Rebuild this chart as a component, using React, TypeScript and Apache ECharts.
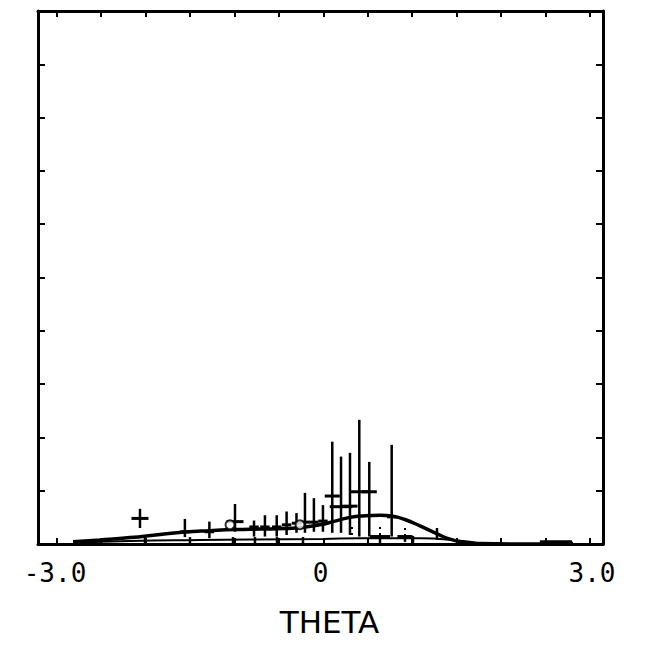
import React, { useEffect, useRef } from "react";
import * as echarts from "echarts";

// Tick positions read from the frame (x in THETA units)
const xTickValues = [-2.801, -2.329, -1.856, -1.384, -0.911, -0.439, 0.034, 0.504, 0.972, 1.449, 1.917, 2.395, 2.862];
const xLabelValues = [-3, 0, 3];
const xLabelText = ["-3.0", "0", "3.0"];

// Fitted curve (thick solid)
const curveX = [-2.628, -2.342, -2.023, -1.704, -1.439, -1.174, -0.908, -0.643, -0.377, -0.218, -0.005, 0.154, 0.313, 0.472, 0.632, 0.77, 0.897, 1.057, 1.216, 1.375, 1.534, 1.694, 2.118, 2.681];
const curveY = [0.04, 0.075, 0.12, 0.18, 0.225, 0.25, 0.27, 0.28, 0.29, 0.31, 0.36, 0.43, 0.5, 0.53, 0.54, 0.52, 0.46, 0.34, 0.21, 0.09, 0.03, 0.01, 0.0, 0.01];

// Lower thin curve
const lowerX = [-2.628, -2.023, -1.28, -0.75, 0.026, 0.42, 1.057, 1.48, 1.694];
const lowerY = [0.02, 0.055, 0.075, 0.085, 0.095, 0.11, 0.11, 0.06, 0.01];

// Upper error crosses: x, y, low, high, half-width
const upX = [-1.917, -1.44, -1.18, -0.908, -0.706, -0.59, -0.465, -0.36, -0.255, -0.165, -0.07, 0.026, 0.125, 0.218, 0.313, 0.412, 0.518, 0.756];
const upY = [0.48, 0.23, 0.23, 0.42, 0.32, 0.32, 0.32, 0.36, 0.39, 0.41, 0.41, 0.43, 0.9, 0.7, 0.71, 0.98, 0.98, 0.51];
const upLo = [0.3, 0.13, 0.11, 0.23, 0.14, 0.14, 0.14, 0.17, 0.21, 0.21, 0.23, 0.23, 0.21, 0.21, 0.17, 0.14, 0.14, 0.14];
const upHi = [0.66, 0.47, 0.42, 0.75, 0.44, 0.54, 0.54, 0.61, 0.58, 0.96, 0.86, 0.73, 1.92, 1.64, 1.71, 2.33, 1.54, 1.86];
const upHw = [0.09, 0.05, 0.05, 0.09, 0.05, 0.05, 0.05, 0.05, 0.05, 0.05, 0.05, 0.05, 0.08, 0.12, 0.08, 0.095, 0.08, 0.05];

// Lower error crosses near the baseline
const lowX = [-1.864, -1.386, -0.929, -0.696, -0.462, -0.186, 0.632, 0.897, 0.982, 1.237, 2.5];
const lowY = [0.07, 0.07, 0.07, 0.07, 0.07, 0.07, 0.14, 0.14, 0.12, 0.13, 0.04];
const lowLo = [0, 0, 0, 0, 0, 0, 0.02, 0.04, 0.02, 0.08, 0.0];
const lowHi = [0.13, 0.13, 0.13, 0.13, 0.13, 0.13, 0.17, 0.17, 0.15, 0.3, 0.06];
const lowHw = [0, 0, 0, 0, 0, 0, 0.106, 0.08, 0, 0, 0.17];

// Dotted bars
const dotX = [0.334, 0.632, 0.897];
const dotLo = [0.13, 0.13, 0.13];
const dotHi = [0.32, 0.32, 0.3];

// Open circles
const circX = [-0.961, -0.218];
const circY = [0.36, 0.36];

const FONT_MONO = "DejaVu Sans Mono";

function crossRenderer(lw: number, dash?: number[]) {
  return (params: any, api: any) => {
    const x = api.value(0);
    const y = api.value(1);
    const lo = api.value(2);
    const hi = api.value(3);
    const hw = api.value(4);
    const l = api.coord([x - hw, y]);
    const r = api.coord([x + hw, y]);
    const t = api.coord([x, hi]);
    const b = api.coord([x, lo]);
    const children: any[] = [
      {
        type: "line",
        shape: { x1: t[0], y1: t[1], x2: b[0], y2: b[1] },
        style: { stroke: "#000", lineWidth: lw, lineDash: dash },
      },
    ];
    if (hw > 0) {
      children.push({
        type: "line",
        shape: { x1: l[0], y1: l[1], x2: r[0], y2: r[1] },
        style: { stroke: "#000", lineWidth: lw + 0.5 },
      });
    }
    return { type: "group", children };
  };
}

export default function App() {
  const ref = useRef<HTMLDivElement>(null);
  useEffect(() => {
    if (!ref.current) return;
    const chart = echarts.init(ref.current, null, { renderer: "svg" });
    const axisLine = { show: true, onZero: false, lineStyle: { color: "#000", width: 3 } };
    const tickStyle = { color: "#000", width: 2 };
    chart.setOption({
      animation: false,
      backgroundColor: "#fff",
      grid: { left: 38, right: 42, top: 11, bottom: 105, containLabel: false },
      xAxis: [
        {
          type: "value",
          min: -3,
          max: 3,
          position: "bottom",
          axisLine,
          splitLine: { show: false },
          axisTick: { show: true, inside: true, length: 6, lineStyle: tickStyle, customValues: xTickValues },
          axisLabel: {
            show: true,
            customValues: xLabelValues,
            margin: 16,
            color: "#000",
            fontFamily: FONT_MONO,
            fontSize: 26,
            formatter: (v: number) => {
              const i = xLabelValues.indexOf(v);
              const s = i >= 0 ? xLabelText[i] : "";
              if (v === -3) return "{l|" + s + "}";
              if (v === 3) return "{r|" + s + "}";
              return "{c|" + s + "}";
            },
            rich: {
              l: { fontFamily: FONT_MONO, fontSize: 26, color: "#000", padding: [0, 0, 0, 34] },
              r: { fontFamily: FONT_MONO, fontSize: 26, color: "#000", padding: [0, 22, 0, 0] },
              c: { fontFamily: FONT_MONO, fontSize: 26, color: "#000" },
            },
          },
          name: "THETA",
          nameLocation: "middle",
          nameGap: 62,
          nameTextStyle: { color: "#000", fontFamily: "DejaVu Sans", fontSize: 31, padding: [0, 0, 0, 18] },
        },
        {
          type: "value",
          min: -3,
          max: 3,
          position: "top",
          axisLine,
          splitLine: { show: false },
          axisTick: { show: true, inside: true, length: 6, lineStyle: tickStyle, customValues: xTickValues },
          axisLabel: { show: false },
        },
      ],
      yAxis: [
        {
          type: "value",
          min: 0,
          max: 10,
          interval: 1,
          position: "left",
          axisLine,
          splitLine: { show: false },
          axisTick: { show: true, inside: true, length: 7, lineStyle: tickStyle },
          axisLabel: { show: false },
        },
        {
          type: "value",
          min: 0,
          max: 10,
          interval: 1,
          position: "right",
          axisLine,
          splitLine: { show: false },
          axisTick: { show: true, inside: true, length: 7, lineStyle: tickStyle },
          axisLabel: { show: false },
        },
      ],
      series: [
        {
          type: "line",
          data: lowerX.map((x, i) => [x, lowerY[i]]),
          smooth: true,
          symbol: "none",
          lineStyle: { color: "#000", width: 2 },
        },
        {
          type: "line",
          data: curveX.map((x, i) => [x, curveY[i]]),
          smooth: true,
          symbol: "none",
          lineStyle: { color: "#000", width: 3.5 },
        },
        {
          type: "custom",
          renderItem: crossRenderer(2.5),
          data: upX.map((x, i) => [x, upY[i], upLo[i], upHi[i], upHw[i]]),
          z: 3,
        },
        {
          type: "custom",
          renderItem: crossRenderer(2.5),
          data: lowX.map((x, i) => [x, lowY[i], lowLo[i], lowHi[i], lowHw[i]]),
          z: 3,
        },
        {
          type: "custom",
          renderItem: crossRenderer(2, [2, 4]),
          data: dotX.map((x, i) => [x, (dotLo[i] + dotHi[i]) / 2, dotLo[i], dotHi[i], 0]),
          z: 3,
        },
        {
          type: "scatter",
          data: circX.map((x, i) => [x, circY[i]]),
          symbol: "circle",
          symbolSize: 9,
          itemStyle: { color: "#fff", borderColor: "#000", borderWidth: 2 },
          z: 4,
        },
      ],
    });
    return () => chart.dispose();
  }, []);
  return (
    <div
      ref={ref}
      style={{ position: "absolute", left: 0, top: 0, width: 645, height: 649, background: "#fff" }}
    />
  );
}
